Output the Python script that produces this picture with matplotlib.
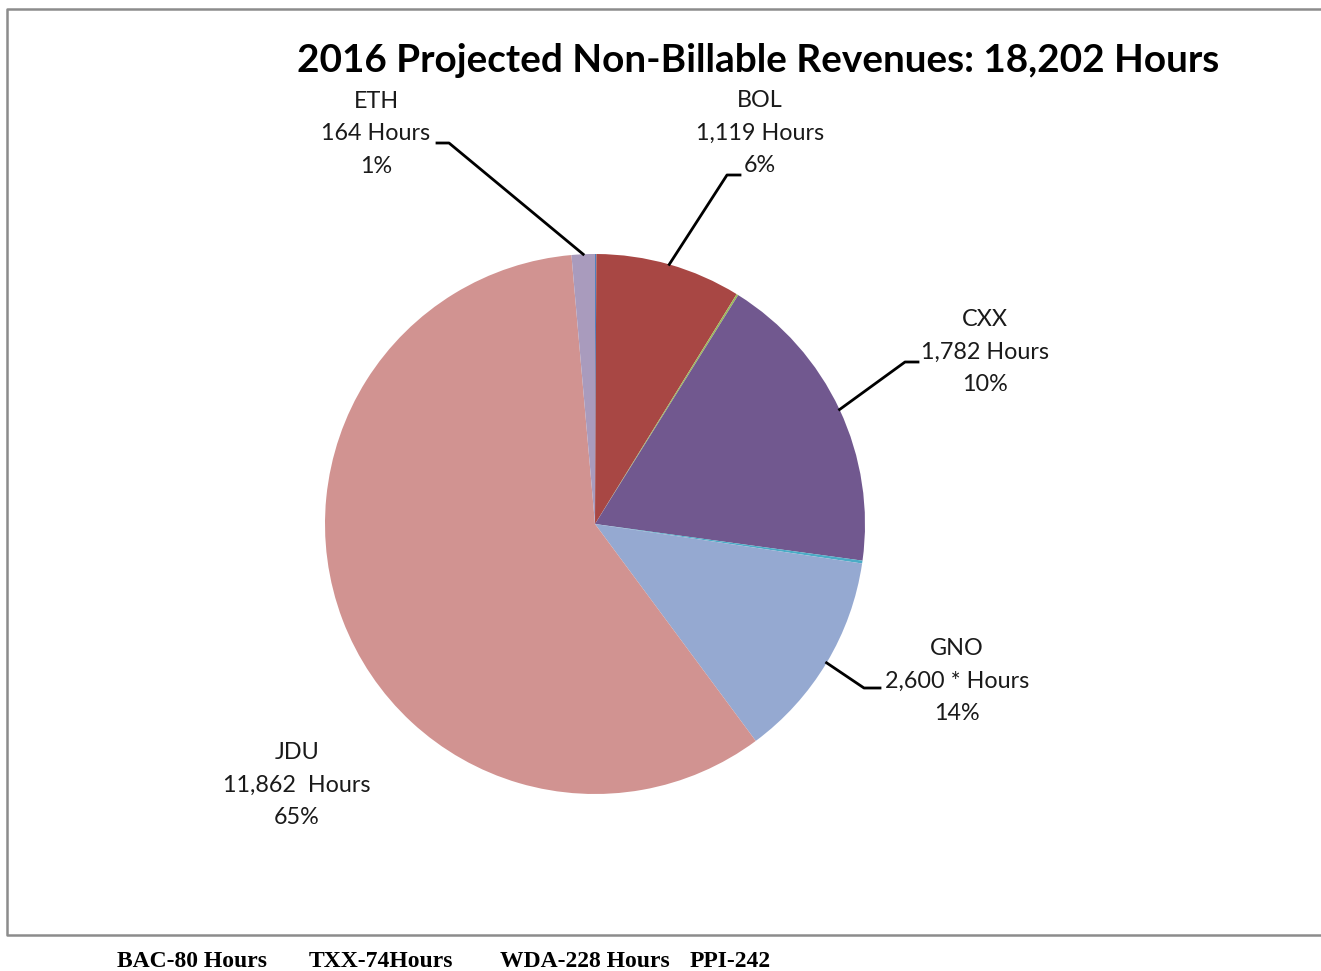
import numpy as np
import matplotlib
matplotlib.use("Agg")
import matplotlib.pyplot as plt

W, H = 1321, 971

# slice shares (percent of the circle), clockwise from 12 o'clock
slices = ["BAC", "BOL", "TXX", "CXX", "WDA", "GNO", "JDU", "ETH"]
shares = [0.08, 8.7, 0.11, 18.25, 0.17, 12.5, 58.7, 1.39]
colors = ["#4f81bd", "#a84744", "#9bbb59", "#71588f", "#4bacc6", "#95a9d1", "#d19391", "#a99bbd"]

# label texts as printed on the chart
label_names = ["ETH", "BOL", "CXX", "GNO", "JDU"]
label_hours = ["164 Hours", "1,119 Hours", "1,782 Hours", "2,600 * Hours", "11,862  Hours"]
label_pcts = ["1%", "6%", "10%", "14%", "65%"]

title = "2016 Projected Non-Billable Revenues: 18,202 Hours"
footnotes = ["BAC-80 Hours", "TXX-74Hours", "WDA-228 Hours", "PPI-242"]

fig = plt.figure(figsize=(W / 100, H / 100), dpi=100)

def px(x, y):
    return x / W, 1 - y / H

# frame around the chart area (right side runs off the image)
fx = [W + 10, 7, 7, W + 10]
fy = [9, 9, 935, 935]
fig.add_artist(plt.Line2D([x / W for x in fx], [1 - y / H for y in fy],
                          transform=fig.transFigure, color="#8c8c8c", lw=1.8))

cx, cy, r = 595, 524, 270
ax = fig.add_axes([(cx - r) / W, (H - cy - r) / H, 2 * r / W, 2 * r / H])
wedges, _ = ax.pie(shares, colors=colors, startangle=90, counterclock=False, radius=1,
                   wedgeprops=dict(linewidth=0))
ax.set_xlim(-1, 1)
ax.set_ylim(-1, 1)
ax.axis("off")

font = "Lato"
fs = 16.8

# label block centres (pixel), and leader kink/end points
label_pos = {"ETH": (376, 134), "BOL": (760, 133), "CXX": (985, 352),
             "GNO": (957, 681), "JDU": (297, 785)}
leaders = {"ETH": [(449, 143), (437, 143)], "BOL": [(727, 175), (740, 175)],
           "CXX": [(905, 362), (918, 362)], "GNO": [(864, 688), (880, 688)]}

for name, hrs, pct in zip(label_names, label_hours, label_pcts):
    x, y = label_pos[name]
    for dy, t in zip([-32.5, 0, 32.5], [name, hrs, pct]):
        fig.text(*px(x, y + dy), t, ha="center", va="center", fontsize=fs,
                 family=font, color="#1a1a1a")
    if name in leaders:
        w = wedges[slices.index(name)]
        ang = np.deg2rad((w.theta1 + w.theta2) / 2)
        sx, sy = cx + r * np.cos(ang), cy - r * np.sin(ang)
        pts = [(sx, sy)] + leaders[name]
        xs = [p[0] / W for p in pts]
        ys = [1 - p[1] / H for p in pts]
        fig.add_artist(plt.Line2D(xs, ys, transform=fig.transFigure, color="black", lw=2))

fig.text(*px(758, 60), title, ha="center", va="center", fontsize=27.9,
         fontweight="bold", family=font)

for t, x in zip(footnotes, [117, 309, 500, 690]):
    fig.text(*px(x, 961), t, ha="left", va="center", fontsize=17,
             fontweight="bold", family="Liberation Serif")

fig.savefig("out.png", dpi=100)
